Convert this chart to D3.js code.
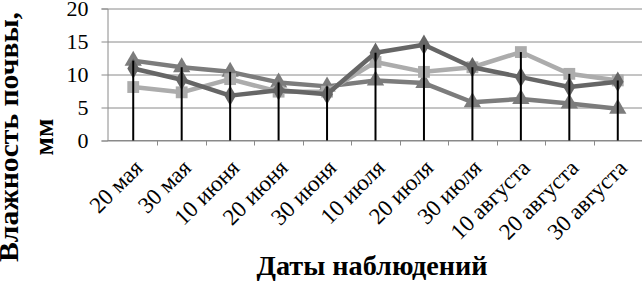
<!DOCTYPE html>
<html>
<head>
<meta charset="utf-8">
<script src="https://cdn.jsdelivr.net/npm/d3@7"></script>
<style>
  html, body { margin: 0; padding: 0; background: #fff; }
  svg text { font-family: "Liberation Serif", "Times New Roman", "DejaVu Serif", serif; }
</style>
</head>
<body>
<div id="chart"></div>
<script>
const dates = ['20 мая', '30 мая', '10 июня', '20 июня', '30 июня', '10 июля',
  '20 июля', '30 июля', '10 августа', '20 августа', '30 августа'];
const seriesDark = [10.9, 9.2, 6.8, 7.6, 7.0, 13.3, 14.5, 11.1, 9.6, 8.1, 8.9];
const seriesMid = [12.1, 11.1, 10.4, 8.8, 8.2, 9.1, 8.7, 5.8, 6.3, 5.6, 4.8];
const seriesLight = [8.1, 7.3, 9.3, 7.4, 7.4, 11.9, 10.4, 11.1, 13.4, 10.1, 9.1];
const yTicks = [0, 5, 10, 15, 20];

const width = 642, height = 283;
const plotLeft = 107.5, plotRight = 642, plotTop = 8.5, plotBottom = 140.5;

const svg = d3.select('#chart').append('svg')
  .attr('width', width)
  .attr('height', height)
  .style('display', 'block');

const x = d3.scaleBand().domain(dates).range([plotLeft + 1.5, plotRight]).padding(0);
const cx = d => x(d) + x.bandwidth() / 2;
const y = d3.scaleLinear().domain([0, 20]).range([plotBottom, plotTop]);

// gridlines + y ticks
svg.append('g')
  .attr('transform', `translate(${plotLeft},0)`)
  .call(d3.axisLeft(y).tickValues(yTicks).tickSize(6).tickFormat(d3.format('d')))
  .attr('font-family', null)
  .call(g => g.select('.domain').attr('stroke', '#8a8a8a'))
  .call(g => g.selectAll('.tick line').attr('stroke', '#8a8a8a'))
  .call(g => g.selectAll('.tick line').clone()
    .attr('x1', 0).attr('x2', plotRight - plotLeft).attr('stroke', '#8a8a8a'))
  .call(g => g.selectAll('.tick text')
    .attr('x', -19)
    .attr('dy', '0.34em')
    .attr('fill', '#000')
    .style('font-size', '22px'));

// x axis with ticks between categories
const xAxis = svg.append('g').attr('transform', `translate(0,${plotBottom})`);
xAxis.append('line')
  .attr('x1', plotLeft).attr('x2', plotRight)
  .attr('stroke', '#8a8a8a');
xAxis.selectAll('.sep')
  .data(dates.slice(1))
  .enter().append('line')
  .attr('x1', d => Math.round(x(d)) + 0.5)
  .attr('x2', d => Math.round(x(d)) + 0.5)
  .attr('y1', 0).attr('y2', 5)
  .attr('stroke', '#8a8a8a');
xAxis.selectAll('.lbl')
  .data(dates)
  .enter().append('text')
  .attr('transform', d => `translate(${cx(d) + 5},${23}) rotate(-45)`)
  .attr('text-anchor', 'end')
  .attr('dy', '0.35em')
  .style('font-size', '23px')
  .text(d => d);

const maxVals = dates.map((d, i) => Math.max(seriesDark[i], seriesMid[i], seriesLight[i]));

const series = [
  { values: seriesMid, color: '#7c7c7c', symbol: d3.symbolTriangle, size: 130 },
  { values: seriesLight, color: '#acacac', symbol: d3.symbolSquare, size: 140 },
  { values: seriesDark, color: '#666666', symbol: d3.symbolDiamond, size: 120 }
];

const line = d3.line()
  .x((v, i) => cx(dates[i]))
  .y(v => y(v));

series.forEach(s => {
  const g = svg.append('g');
  g.append('path')
    .datum(s.values)
    .attr('d', line)
    .attr('fill', 'none')
    .attr('stroke', s.color)
    .attr('stroke-width', 4.5)
    .attr('stroke-linejoin', 'round');
  g.selectAll('path.m')
    .data(s.values)
    .enter().append('path')
    .attr('class', 'm')
    .attr('transform', (v, i) => `translate(${cx(dates[i])},${y(v)})`)
    .attr('d', d3.symbol().type(s.symbol).size(s.size))
    .attr('fill', s.color);
});

// drop lines from highest value to axis, over the markers
svg.append('g').selectAll('line')
  .data(dates)
  .enter().append('line')
  .attr('x1', d => cx(d)).attr('x2', d => cx(d))
  .attr('y1', (d, i) => y(maxVals[i]))
  .attr('y2', plotBottom)
  .attr('stroke', '#000')
  .attr('stroke-width', 2);

// axis titles
svg.append('text')
  .attr('x', 372).attr('y', 275)
  .attr('text-anchor', 'middle')
  .attr('textLength', 231)
  .attr('lengthAdjust', 'spacingAndGlyphs')
  .style('font-size', '27px')
  .style('font-weight', 'bold')
  .text('Даты наблюдений');

const yt = svg.append('text')
  .attr('transform', 'translate(0,137) rotate(-90)')
  .attr('text-anchor', 'middle')
  .style('font-size', '27px')
  .style('font-weight', 'bold');
yt.append('tspan').attr('x', 0).attr('y', 18)
  .attr('textLength', 250)
  .attr('lengthAdjust', 'spacingAndGlyphs')
  .text('Влажность почвы,');
yt.append('tspan').attr('x', 0).attr('y', 53).text('мм');
</script>
</body>
</html>
